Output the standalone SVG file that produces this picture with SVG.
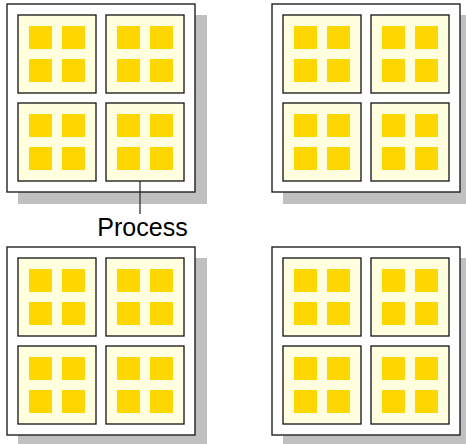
<svg xmlns="http://www.w3.org/2000/svg" xmlns:xlink="http://www.w3.org/1999/xlink" width="466" height="444" viewBox="0 0 466 444">
<style>
.shadow{fill:#c0c0c0}
.outer{fill:#fff;stroke:#222;stroke-width:1.4}
.inner{fill:#ffffe0;stroke:#111;stroke-width:1.3}
.core{fill:#ffd700}
.conn{stroke:#222;stroke-width:1.2;fill:none}
.lbl{font-family:"Liberation Sans",Arial,sans-serif;font-size:25px;fill:#000}
</style>
<defs>
<g id="proc">
<rect class="inner" x="0" y="0" width="78" height="78"/>
<rect class="core" x="11" y="11" width="23" height="23"/>
<rect class="core" x="44" y="11" width="23" height="23"/>
<rect class="core" x="11" y="44" width="23" height="23"/>
<rect class="core" x="44" y="44" width="23" height="23"/>
</g>
<g id="node">
<rect class="shadow" x="11" y="11" width="189" height="189"/>
<rect class="outer" x="0" y="0" width="188" height="188"/>
<use xlink:href="#proc" x="11" y="11"/>
<use xlink:href="#proc" x="99" y="11"/>
<use xlink:href="#proc" x="11" y="99"/>
<use xlink:href="#proc" x="99" y="99"/>
</g>
</defs>
<g id="node-top-left"><use xlink:href="#node" x="7" y="4"/></g>
<g id="node-top-right"><use xlink:href="#node" x="272" y="4"/></g>
<g id="node-bottom-left"><use xlink:href="#node" x="7" y="247"/></g>
<g id="node-bottom-right"><use xlink:href="#node" x="272" y="247"/></g>
<g id="connectors">
<line class="conn" x1="140" y1="181" x2="140" y2="214"/>
</g>
<g id="label"><text class="lbl" x="142.5" y="236" text-anchor="middle">Process</text></g>
</svg>
